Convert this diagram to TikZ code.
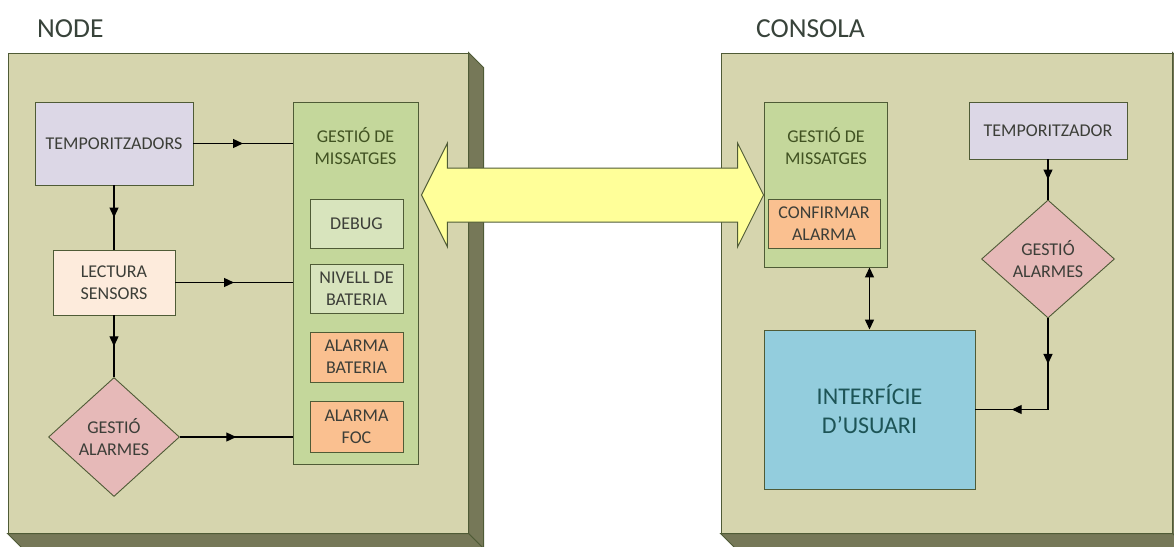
\documentclass[tikz,border=0pt]{standalone}
\usepackage{fontspec}
\setmainfont{Carlito}
\usetikzlibrary{shapes.geometric,arrows.meta,decorations.markings,calc}

\definecolor{panelfill}{HTML}{D6D5AE}
\definecolor{paneledge}{HTML}{4F5B36}
\definecolor{sidefill}{HTML}{767858}
\definecolor{msgfill}{HTML}{C4D79B}
\definecolor{lightgreen}{HTML}{D8E4BD}
\definecolor{orangefill}{HTML}{FAC090}
\definecolor{lavender}{HTML}{DCD7E6}
\definecolor{peach}{HTML}{FDEBDC}
\definecolor{rosefill}{HTML}{E6B9B8}
\definecolor{bluefill}{HTML}{93CDDD}
\definecolor{yellowfill}{HTML}{FFFF99}
\definecolor{txtgray}{HTML}{3C3E38}
\definecolor{txtgreen}{HTML}{415222}
\definecolor{txtteal}{HTML}{1D5456}
\definecolor{titlegray}{HTML}{38433A}

\begin{document}
\begin{tikzpicture}[x=1pt,y=-1pt,
  panel/.style={draw=paneledge,line width=1pt,fill=panelfill,inner sep=0pt},
  side/.style={draw=paneledge,line width=1pt,fill=sidefill},
  box/.style={draw=paneledge,line width=0.9pt,inner sep=0pt,align=center,
    text=txtgray,font=\fontsize{18}{22}\selectfont},
  msgbox/.style={box,fill=msgfill},
  diam/.style={box,diamond,fill=rosefill},
  tag/.style={align=center,font=\fontsize{18}{22}\selectfont},
  title/.style={text=titlegray,font=\fontsize{27.5}{32}\selectfont,inner sep=0pt},
  conn/.style={draw=black,line width=1.3pt},
  midarrow/.style={conn,postaction={decorate},
    decoration={markings,mark=at position 0.5 with {\arrow{Triangle[length=10pt,width=9pt]}}}},
  bigarrow/.style={draw=paneledge,line width=1pt,fill=yellowfill,line join=miter}
]
\useasboundingbox (0,0) rectangle (1174,546);
\clip (0,0) rectangle (1174,546);

% ---------- titles ----------
\node[title,anchor=base west] (nodetitle) at (37,37) {NODE};
\node[title,anchor=base west] (consolatitle) at (756,37) {CONSOLA};

% ---------- the two raised panels ----------
\node[panel,minimum width=460pt,minimum height=480pt] (nodepanel) at (238,293) {};
\filldraw[side] (nodepanel.north east) -- ++(15,15) -- ($(nodepanel.south east)+(15,15)$)
  -- (nodepanel.south east) -- cycle;
\filldraw[side] (nodepanel.south west) -- ++(15,15) -- ($(nodepanel.south east)+(15,15)$)
  -- (nodepanel.south east) -- cycle;

\node[panel,minimum width=451pt,minimum height=480pt] (consolapanel) at (946.5,293) {};
\filldraw[side] (consolapanel.north east) -- ++(15,15) -- ($(consolapanel.south east)+(15,15)$)
  -- (consolapanel.south east) -- cycle;
\filldraw[side] (consolapanel.south west) -- ++(15,15) -- ($(consolapanel.south east)+(15,15)$)
  -- (consolapanel.south east) -- cycle;

% ---------- NODE side ----------
\node[box,fill=lavender,minimum width=158pt,minimum height=83pt] (timers) at (114,143.5) {TEMPORITZADORS};
\node[box,fill=peach,minimum width=122pt,minimum height=65pt] (sensors) at (114,282.5) {LECTURA\\SENSORS};
\node[diam,minimum width=131pt,minimum height=119pt] (alarmsL) at (114,437) {GESTIÓ\\ALARMES};

\node[msgbox,minimum width=125pt,minimum height=362pt] (msgL) at (355.5,283) {};
\node[tag,text=txtgreen] (msgLtitle) at (355.5,146) {GESTIÓ DE\\MISSATGES};
\node[box,fill=lightgreen,minimum width=93pt,minimum height=49pt] (debug) at (356.5,223.5) {DEBUG};
\node[box,fill=lightgreen,minimum width=93pt,minimum height=49pt] (battlevel) at (356.5,288.5) {NIVELL DE\\BATERIA};
\node[box,fill=orangefill,minimum width=93pt,minimum height=50pt] (battalarm) at (356.5,357) {ALARMA\\BATERIA};
\node[box,fill=orangefill,minimum width=93pt,minimum height=51pt] (firealarm) at (356.5,426.5) {ALARMA\\FOC};

\draw[midarrow] (timers.east) -- (timers.east -| msgL.west);
\draw[midarrow] (sensors.east) -- (sensors.east -| msgL.west);
\draw[midarrow] (alarmsL.east) -- (alarmsL.east -| msgL.west);
\draw[midarrow] (timers.south) -- (sensors.north);
\draw[midarrow] (sensors.south) -- (alarmsL.north);

% ---------- CONSOLA side ----------
\node[msgbox,minimum width=123pt,minimum height=165pt] (msgR) at (825.5,184.5) {};
\node[tag,text=txtgreen] (msgRtitle) at (826,146) {GESTIÓ DE\\MISSATGES};
\node[box,fill=orangefill,minimum width=112pt,minimum height=49pt] (confirm) at (824,223.5) {CONFIRMAR\\ALARMA};

\node[box,fill=lavender,minimum width=158pt,minimum height=57pt] (timer) at (1048,130.5) {TEMPORITZADOR};
\node[diam,minimum width=133pt,minimum height=118pt] (alarmsR) at (1048,259) {GESTIÓ\\ALARMES};
\node[box,fill=bluefill,text=txtteal,font=\fontsize{24}{29}\selectfont,
  minimum width=211pt,minimum height=159pt] (ui) at (869.5,409.5) {INTERFÍCIE\\D’USUARI};

\draw[conn,{Triangle[length=10pt,width=9pt]}-{Triangle[length=10pt,width=9pt]}]
  (ui.north |- msgR.south) -- (ui.north);
\draw[midarrow] (timer.south) -- (alarmsR.north);
\coordinate (bend) at (alarmsR.south |- ui.east);
\draw[midarrow] (alarmsR.south) -- (bend);
\draw[midarrow] (bend) -- (ui.east);

% ---------- link between the two message handlers ----------
\coordinate (axis) at (0,195);
\path (msgL.east) ++(3,0) coordinate (edgeL);
\coordinate (tipL) at (edgeL |- axis);
\coordinate (tipR) at (msgR.west |- axis);
\filldraw[bigarrow] (tipL) -- ++(26,-52) -- ++(0,25) -- ($(tipR)+(-26,-27)$) -- ++(0,-25)
  -- (tipR) -- ++(-26,52) -- ++(0,-25) -- ($(tipL)+(26,27)$) -- ++(0,25) -- cycle;
\end{tikzpicture}
\end{document}
